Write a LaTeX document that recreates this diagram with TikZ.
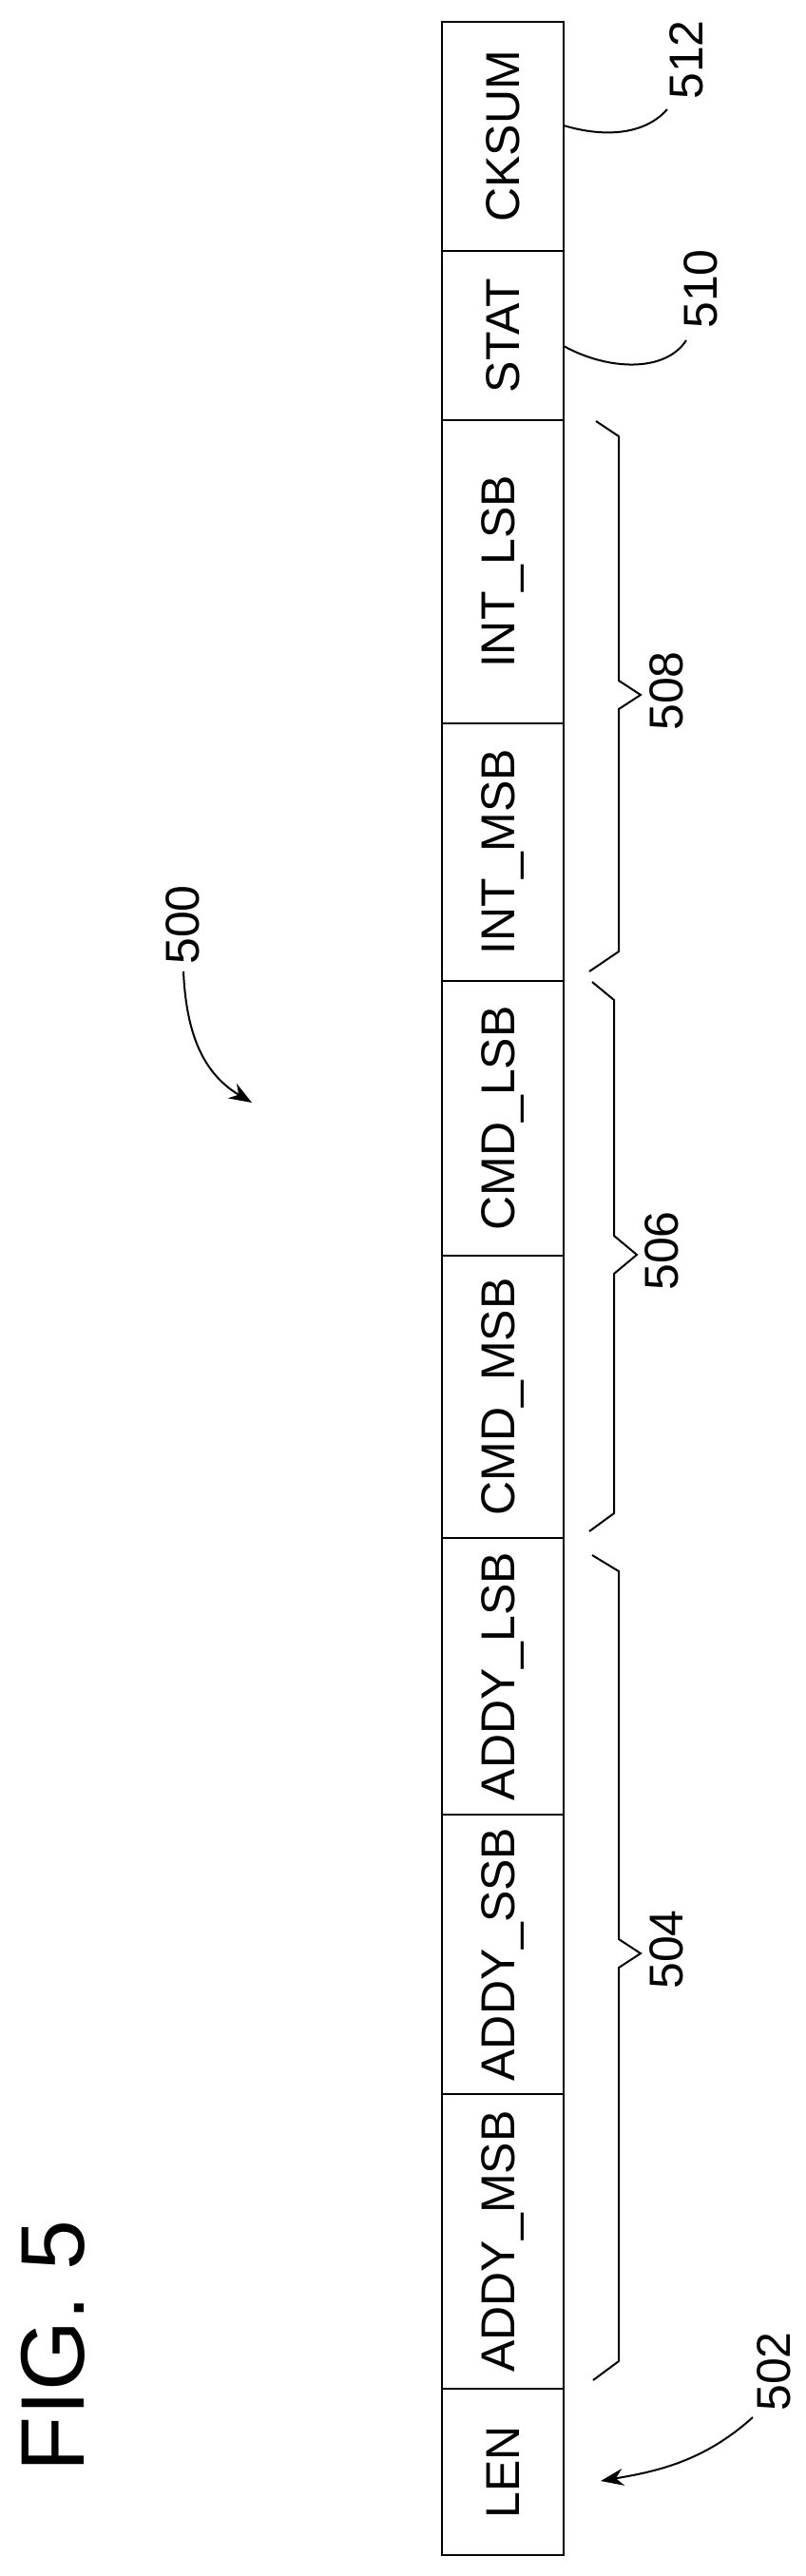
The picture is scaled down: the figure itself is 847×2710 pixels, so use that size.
\documentclass[tikz,border=0pt]{standalone}
\usepackage{fontspec}
\setmainfont{Liberation Sans}
\usetikzlibrary{arrows.meta}

\begin{document}
\begin{tikzpicture}[x=1pt,y=-1pt,line join=miter,
                    >={Stealth[length=24pt,width=18pt]}]
  \tikzset{field/.style={draw,line width=2.6pt,rotate=90,inner sep=0pt,
                         minimum height=128pt,font=\fontsize{50}{50}\selectfont},
           refnum/.style={rotate=90,inner sep=0pt,font=\fontsize{50}{50}\selectfont},
           lead/.style={line width=2pt},
           brace/.style={line width=2pt}}
  \useasboundingbox (0,0) rectangle (847,2710);

  % packet fields, top to bottom
  \foreach \nm/\ya/\yb/\txt in {cksum/23/264/CKSUM, stat/264/442/STAT,
      intl/442/761/INT\_LSB, intm/761/1032/INT\_MSB, cmdl/1032/1321/CMD\_LSB,
      cmdm/1321/1618/CMD\_MSB, addl/1618/1909/ADDY\_LSB, adds/1909/2203/ADDY\_SSB,
      addm/2203/2513/ADDY\_MSB, len/2513/2688/LEN}
    \node[field,minimum width={\yb-\ya}] (\nm) at (529,{(\ya+\yb)/2}) {\txt};

  % reference numerals
  \node[refnum] (n512) at (722,63)   {512};
  \node[refnum] (n510) at (737,304)  {510};
  \node[refnum] (n508) at (701,727)  {508};
  \node[refnum] (n506) at (696,1316) {506};
  \node[refnum] (n504) at (701,2051) {504};
  \node[refnum] (n502) at (814,2495) {502};
  \node[refnum] (n500) at (192,973)  {500};
  \node[rotate=90,inner sep=0pt,font=\fontsize{95}{95}\selectfont] (fig) at (56,2468) {FIG. 5};

  \coordinate (t512) at (702,115);
  \coordinate (t510) at (722,358);
  \coordinate (t502) at (792,2543);
  \coordinate (t500) at (193,1022);
  \coordinate (h502) at (632,2610);
  \coordinate (h500) at (265,1160);

  % leaders
  \draw[lead] (593,132) .. controls (640,146) and (680,140) .. (t512);
  \draw[lead] (593,364) .. controls (640,390) and (700,392) .. (t510);
  \draw[lead,->] (t502) .. controls (740,2590) and (690,2600) .. (h502);
  \draw[lead,->] (t500) .. controls (196,1090) and (215,1130) .. (h500);

  % braces
  \draw[brace] (627,443) -- (651,459) -- (651,716) -- (674,731) -- (651,746)
               -- (651,1001) -- (620,1022);
  \draw[brace] (623,1033) -- (646,1052) -- (646,1300) -- (670,1320) -- (646,1340)
               -- (646,1592) -- (620,1611);
  \draw[brace] (623,1636) -- (651,1653) -- (651,2040) -- (674,2055) -- (651,2070)
               -- (651,2484) -- (624,2504);
\end{tikzpicture}
\end{document}
